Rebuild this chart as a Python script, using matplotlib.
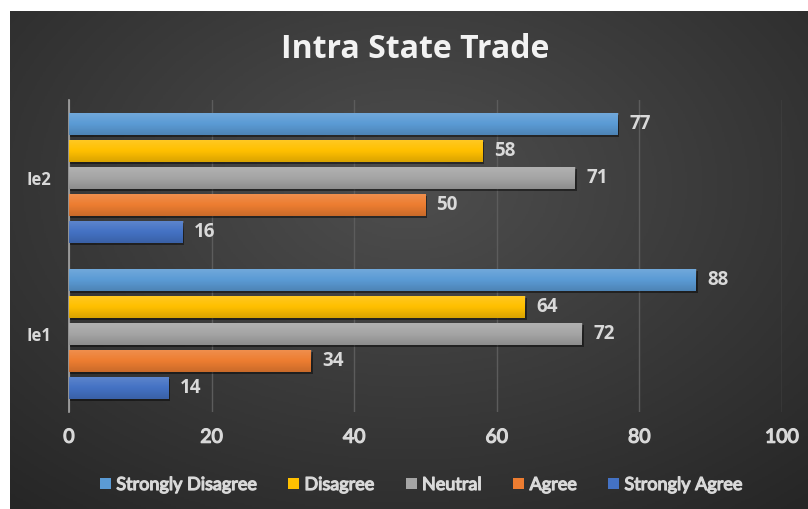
import numpy as np
import matplotlib.pyplot as plt
import matplotlib.patheffects as pe
from matplotlib.patches import Patch
from matplotlib.colors import LinearSegmentedColormap

# survey answers per item
categories = ['Ie1', 'Ie2']
levels = ['Strongly Disagree', 'Disagree', 'Neutral', 'Agree', 'Strongly Agree']
strongly_disagree = [88, 77]
disagree = [64, 58]
neutral = [72, 71]
agree = [34, 50]
strongly_agree = [14, 16]
series = [strongly_disagree, disagree, neutral, agree, strongly_agree]
colors = ['#5B9BD5', '#FFC000', '#A5A5A5', '#ED7D31', '#4472C4']

TEXT = '#D9D9D9'
NARROW = ['Lato', 'DejaVu Sans']
WIDE = ['Open Sans', 'DejaVu Sans']
# thicken the narrow face a little, it only ships a regular weight here
heavy = [pe.withStroke(linewidth=0.9, foreground=TEXT)]

W, H = 808, 509
fig = plt.figure(figsize=(W / 100, H / 100), dpi=100, facecolor='white')

# dark radial backdrop
bg = fig.add_axes([10 / W, 0, (W - 10) / W, (H - 11) / H])
bg.axis('off')
yy, xx = np.mgrid[0:1:300j, 0:1:500j]
r = np.sqrt(((xx - 0.5) * 1.1) ** 2 + (yy - 0.35) ** 2)
r = r / r.max()
bg_cmap = LinearSegmentedColormap.from_list('bg', ['#4e4e4e', '#3a3a3a', '#262626'])
bg.imshow(r, cmap=bg_cmap, aspect='auto', extent=[0, 1, 0, 1])
bg.set_xlim(0, 1)
bg.set_ylim(0, 1)

ax = fig.add_axes([69 / W, (H - 412) / H, (782 - 69) / W, (412 - 100) / H])
ax.set_facecolor('none')

# light top / dark bottom sheen laid over each bar
sheen = np.zeros((40, 1, 4))
t = np.linspace(0, 1, 40)
sheen[:, 0, :3] = np.where(t < 0.5, 1.0, 0.0)[:, None]
sheen[:, 0, 3] = np.abs(t - 0.5) * 0.3

step = 0.173
height = 0.142
ypos = np.arange(len(categories))
for i, (name, vals, col) in enumerate(zip(levels, series, colors)):
    off = (2 - i) * step
    bars = ax.barh(ypos + off, vals, height=height, color=col, zorder=3,
                   path_effects=[pe.SimplePatchShadow(offset=(1, -1.5), alpha=0.45,
                                                      shadow_rgbFace='black'),
                                 pe.Normal()])
    for rect, v, y in zip(bars, vals, ypos + off):
        x0, y0 = rect.get_x(), rect.get_y()
        im = ax.imshow(sheen, extent=[x0, x0 + rect.get_width(), y0, y0 + rect.get_height()],
                       aspect='auto', zorder=3.5, interpolation='bilinear')
        im.set_clip_path(rect)
        ax.annotate(f'{v}', (v, y), xytext=(8, 0), textcoords='offset points',
                    va='center', ha='left', color=TEXT, fontsize=13.5,
                    fontweight='bold', family=WIDE)

ax.set_xlim(0, 100)
ax.set_ylim(-0.5, 1.5)
ax.set_xticks([0, 20, 40, 60, 80, 100])
ax.set_yticks(ypos)
ax.set_yticklabels(categories)
ax.grid(axis='x', color='#5c5c5c', lw=1, zorder=0)
for s in ['top', 'right', 'bottom']:
    ax.spines[s].set_visible(False)
ax.spines['left'].set_color('#a6a6a6')
ax.spines['left'].set_linewidth(1.2)
ax.tick_params(length=0)
ax.tick_params(axis='x', pad=12, colors=TEXT)
ax.tick_params(axis='y', pad=13, colors=TEXT)
for lbl in ax.get_xticklabels():
    lbl.set_family(NARROW)
    lbl.set_fontsize(14)
    lbl.set_path_effects(heavy)
for lbl in ax.get_yticklabels():
    lbl.set_family(WIDE)
    lbl.set_fontsize(12)
    lbl.set_fontweight('bold')

fig.text(415 / W, 1 - 50 / H, 'Intra State Trade', ha='center', va='center',
         fontsize=23, fontweight='bold', color='#F2F2F2', family=WIDE)

handles = [Patch(facecolor=c, label=n) for n, c in zip(levels, colors)]
leg = fig.legend(handles=handles, loc='center', bbox_to_anchor=(421 / W, 1 - 485 / H),
                 ncol=5, frameon=False, handlelength=0.6, handleheight=0.6,
                 handletextpad=0.3, columnspacing=1.75,
                 prop={'family': NARROW, 'size': 13})
for txt in leg.get_texts():
    txt.set_color(TEXT)
    txt.set_path_effects(heavy)

fig.savefig('out.png', dpi=100, facecolor='white')
